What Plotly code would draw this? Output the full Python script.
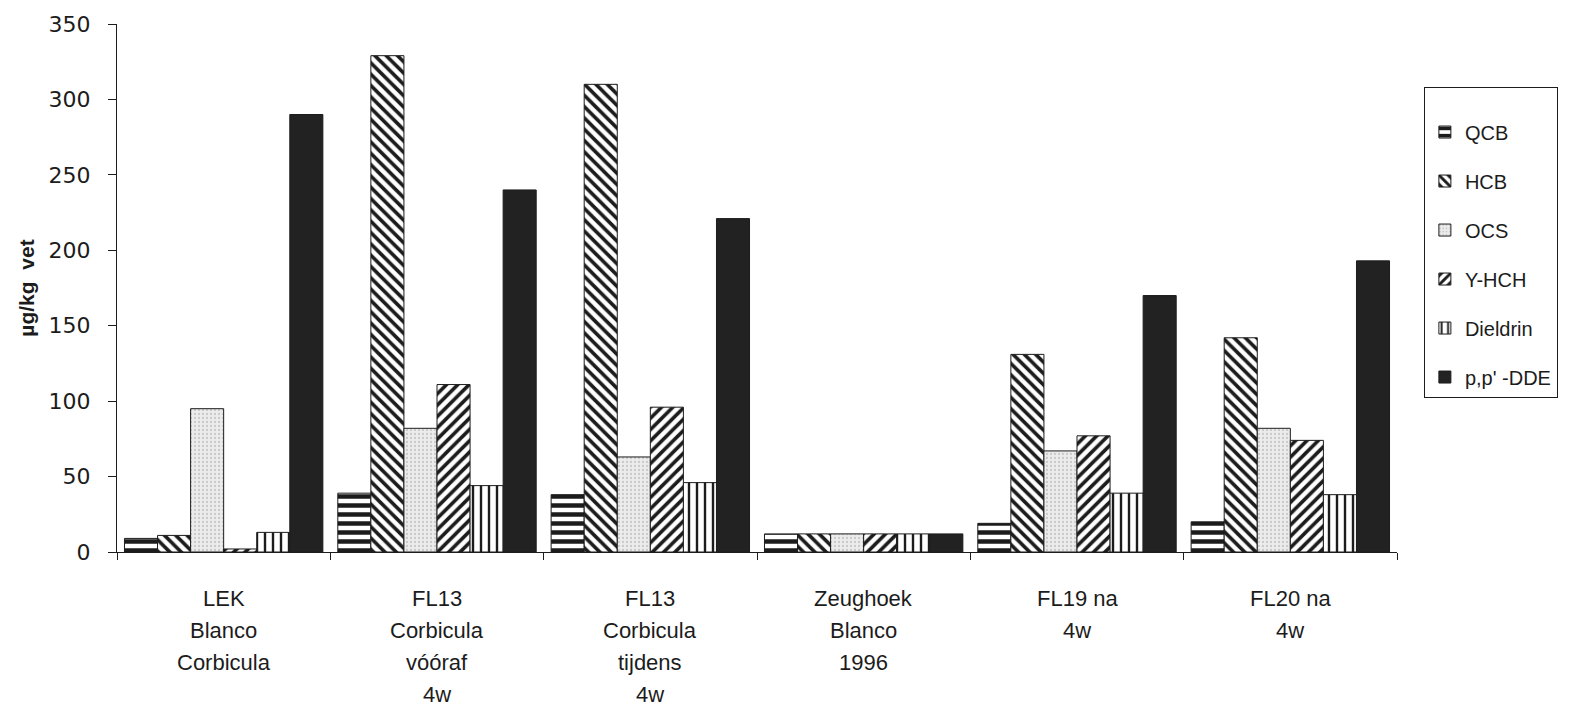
import plotly.graph_objects as go

# Sampling sites (x categories); <br> separates the label lines
sites = [
    "LEK<br>Blanco<br>Corbicula",
    "FL13<br>Corbicula<br>vóóraf<br>4w",
    "FL13<br>Corbicula<br>tijdens<br>4w",
    "Zeughoek<br>Blanco<br>1996",
    "FL19 na<br>4w",
    "FL20 na<br>4w",
]

# Concentrations in µg/kg vet per compound
qcb = [9, 39, 38, 12, 19, 20]
hcb = [11, 329, 310, 12, 131, 142]
ocs = [95, 82, 63, 12, 67, 82]
y_hch = [2, 111, 96, 12, 77, 74]
dieldrin = [13, 44, 46, 12, 39, 38]
pp_dde = [290, 240, 221, 12, 170, 193]

y_ticks = [0, 50, 100, 150, 200, 250, 300, 350]

INK = "#1c1c1c"

series = [
    ("QCB", qcb, dict(shape="-", size=9, solidity=0.5, fgcolor=INK, bgcolor="white", fillmode="replace")),
    ("HCB", hcb, dict(shape="\\", size=8, solidity=0.45, fgcolor=INK, bgcolor="white", fillmode="replace")),
    ("OCS", ocs, dict(shape=".", size=4, solidity=0.25, fgcolor="#c9c9c9", bgcolor="#ececec", fillmode="replace")),
    ("Y-HCH", y_hch, dict(shape="/", size=8, solidity=0.45, fgcolor=INK, bgcolor="white", fillmode="replace")),
    ("Dieldrin", dieldrin, dict(shape="|", size=8, solidity=0.3, fgcolor=INK, bgcolor="white", fillmode="replace")),
    ("p,p' -DDE", pp_dde, None),
]

fig = go.Figure()
for name, vals, pattern in series:
    marker = dict(line=dict(color=INK, width=1))
    if pattern is None:
        marker["color"] = "#222222"
    else:
        marker["color"] = pattern["bgcolor"]
        marker["pattern"] = pattern
    fig.add_trace(go.Bar(
        x=sites, y=vals, name=name, marker=marker,
        legendgroup=name,
    ))

# Category labels drawn line by line below the axis
for site in sites:
    for i, line in enumerate(site.split("<br>")):
        fig.add_annotation(
            x=site, xref="x", y=0, yref="paper",
            yanchor="middle", xanchor="center",
            yshift=-46 - 32 * i, showarrow=False,
            text=line,
            font=dict(family="Liberation Sans, Arial, sans-serif", size=22, color=INK),
        )

fig.update_layout(
    width=1589, height=713,
    margin=dict(l=117, r=192, t=16, b=161),
    paper_bgcolor="white", plot_bgcolor="white",
    barmode="group", bargap=0.07, bargroupgap=0,
    showlegend=True,
    legend=dict(
        x=1.021, xanchor="left", y=0.881, yanchor="top",
        bordercolor=INK, borderwidth=1, bgcolor="white",
        font=dict(family="Liberation Sans, Arial, sans-serif", size=20, color=INK),
        tracegroupgap=20, entrywidth=190,
        title=dict(text=" ", font=dict(size=19)),
    ),
    xaxis=dict(
        type="category", range=[-0.5, 5.5],
        showline=True, linecolor=INK, linewidth=1,
        ticks="outside", tickson="boundaries", ticklen=7, tickcolor=INK,
        showticklabels=False, showgrid=False, zeroline=False,
    ),
    xaxis2=dict(
        overlaying="x", anchor="y", type="linear", range=[-0.5, 5.5],
        tickvals=[-0.5, 0.5, 1.5, 2.5, 3.5, 4.5, 5.5],
        ticks="inside", ticklen=7, tickcolor=INK,
        showticklabels=False, showgrid=False, zeroline=False, showline=False,
    ),
    yaxis=dict(
        range=[0, 350], tickvals=y_ticks,
        showline=True, linecolor=INK, linewidth=1,
        ticks="outside", ticklen=8, tickcolor=INK, ticklabelstandoff=13,
        showgrid=False, zeroline=False,
        tickfont=dict(family="DejaVu Sans, Verdana, sans-serif", size=22, color=INK),
        title=dict(
            text="<b>µg/kg  vet</b>", standoff=8,
            font=dict(family="Liberation Sans, Arial, sans-serif", size=21, color=INK),
        ),
    ),
    yaxis2=dict(
        overlaying="y", anchor="x", side="left", range=[0, 350], tickvals=y_ticks,
        ticks="inside", ticklen=6, tickcolor=INK,
        showticklabels=False, showgrid=False, zeroline=False, showline=False,
    ),
)

fig.write_html("out.html")
